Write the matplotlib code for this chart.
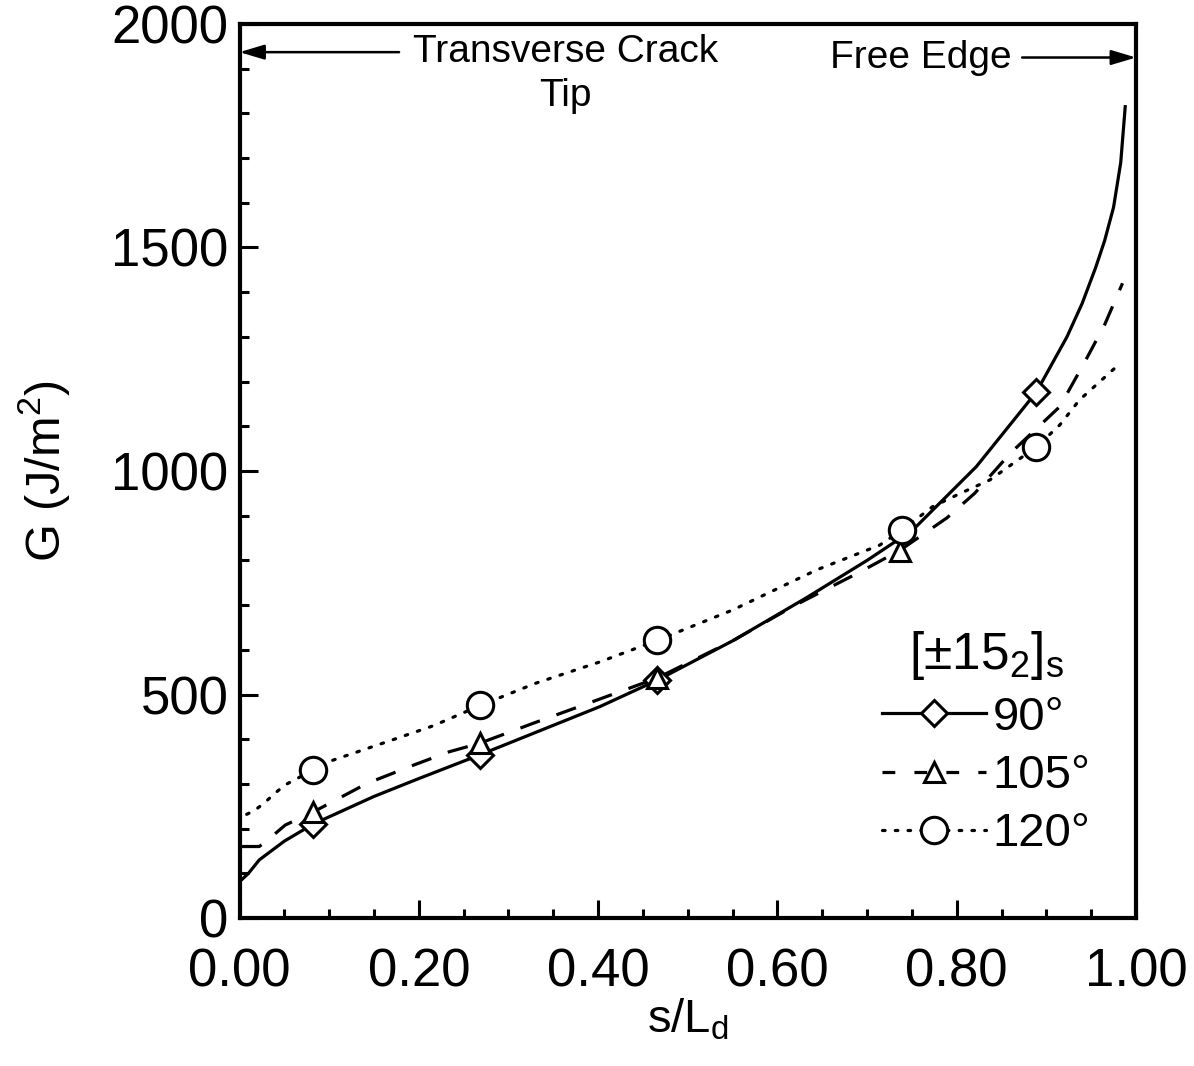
import matplotlib
matplotlib.use("Agg")
import matplotlib.pyplot as plt
from matplotlib.ticker import MultipleLocator, FormatStrFormatter

plt.rcParams['font.family'] = ['Liberation Sans', 'DejaVu Sans']
plt.rcParams['mathtext.fontset'] = 'custom'
plt.rcParams['mathtext.rm'] = 'Liberation Sans'
plt.rcParams['mathtext.it'] = 'Liberation Sans:italic'

# Energy release rate G along the delamination front, [±15_2]_s laminate
s_90 = [0.002, 0.010, 0.022, 0.050, 0.082, 0.150, 0.200, 0.268, 0.402, 0.466,
        0.550, 0.632, 0.700, 0.751, 0.822, 0.889, 0.923, 0.940, 0.955, 0.965,
        0.975, 0.983, 0.988]
g_90 = [85, 100, 130, 172, 210, 272, 312, 365, 473, 532,
        620, 716, 800, 868, 1010, 1177, 1300, 1375, 1455, 1515,
        1590, 1690, 1815]

s_105 = [0.002, 0.022, 0.030, 0.051, 0.082, 0.142, 0.194, 0.234, 0.268, 0.328,
         0.383, 0.466, 0.550, 0.620, 0.692, 0.737, 0.789, 0.820, 0.860, 0.915,
         0.941, 0.965, 0.985]
g_105 = [160, 160, 172, 208, 237, 301, 342, 372, 391, 436,
         476, 537, 620, 700, 774, 823, 895, 950, 1040, 1144,
         1237, 1327, 1420]

s_120 = [0.008, 0.017, 0.028, 0.040, 0.051, 0.082, 0.104, 0.164, 0.216, 0.268,
         0.330, 0.402, 0.467, 0.550, 0.644, 0.714, 0.739, 0.773, 0.804, 0.837,
         0.863, 0.889, 0.915, 0.937, 0.978]
g_120 = [232, 241, 258, 280, 298, 331, 353, 394, 430, 475,
         525, 573, 622, 689, 779, 834, 868, 920, 950, 980,
         1017, 1054, 1103, 1159, 1233]

# Marked points on each curve
mk_s_90 = [0.082, 0.268, 0.466, 0.889]
mk_g_90 = [210, 365, 532, 1177]
mk_s_105 = [0.082, 0.268, 0.466, 0.737]
mk_g_105 = [237, 391, 537, 820]
mk_s_120 = [0.082, 0.268, 0.466, 0.739, 0.889]
mk_g_120 = [331, 477, 622, 868, 1054]

labels = ['90°', '105°', '120°']
x_ticks = [0.0, 0.2, 0.4, 0.6, 0.8, 1.0]
y_ticks = [0, 500, 1000, 1500, 2000]

fig = plt.figure(figsize=(11.94, 10.66), dpi=100)
ax = fig.add_axes([0.2006, 0.1388, 0.7508, 0.8387])

lw = 2.3
ms_kw = dict(markerfacecolor='white', markeredgecolor='black', markeredgewidth=2.2)
dash_style = (0, (6.5, 5.5))
dot_style = (0, (0.8, 3.2))

ax.plot(s_90, g_90, color='black', lw=lw, ls='-')
ax.plot(s_105, g_105, color='black', lw=lw, ls=dash_style)
ax.plot(s_120, g_120, color='black', lw=lw, ls=dot_style, dash_capstyle='round')

ax.plot(mk_s_90, mk_g_90, ls='none', marker='D', markersize=13, **ms_kw)
ax.plot(mk_s_105, mk_g_105, ls='none', marker='^', markersize=15, **ms_kw)
ax.plot(mk_s_120, mk_g_120, ls='none', marker='o', markersize=19, **ms_kw)

# Legend handles combining line style and marker
h1, = ax.plot([], [], color='black', lw=lw, ls='-', marker='D', markersize=13, **ms_kw)
h2, = ax.plot([], [], color='black', lw=lw, ls=(0, (4, 6)), marker='^', markersize=15, **ms_kw)
h3, = ax.plot([], [], color='black', lw=lw, ls=dot_style, dash_capstyle='round',
              marker='o', markersize=19, **ms_kw)
leg = ax.legend([h1, h2, h3], labels, loc='upper left', bbox_to_anchor=(0.69, 0.35),
                frameon=False, fontsize=34, handlelength=2.2, handletextpad=0.15,
                labelspacing=0.3, borderpad=0.0,
                title='[±15$_{\\mathrm{2}}$]$_{\\mathrm{s}}$', title_fontsize=37)
leg._legend_box.align = 'center'

ax.set_xlim(0, 1.0)
ax.set_ylim(0, 2000)
ax.set_xticks(x_ticks)
ax.set_yticks(y_ticks)
ax.xaxis.set_minor_locator(MultipleLocator(0.05))
ax.yaxis.set_minor_locator(MultipleLocator(100))
ax.xaxis.set_major_formatter(FormatStrFormatter('%.2f'))
ax.tick_params(axis='both', which='major', direction='in', length=13, width=2.2,
               labelsize=38, top=False, right=False)
ax.tick_params(axis='both', which='minor', direction='in', length=6.5, width=2.2,
               top=False, right=False)
ax.tick_params(axis='x', which='major', pad=21)
ax.tick_params(axis='y', which='major', pad=8)

for sp in ax.spines.values():
    sp.set_linewidth(3)

ax.set_xlabel('s/L$_{\\mathrm{d}}$', fontsize=34, labelpad=0)
ax.set_ylabel('G (J/m$^{\\mathrm{2}}$)', fontsize=35, labelpad=28)

# Region annotations with arrows to the two ends of the front
arrow_kw = dict(arrowstyle='-|>,head_length=1.5,head_width=0.45',
                color='black', lw=1.8, shrinkA=0, shrinkB=0)
ax.annotate('', xy=(0.0, 1937), xytext=(0.178, 1937), arrowprops=arrow_kw)
ax.text(0.364, 1937, 'Transverse Crack', ha='center', va='center', fontsize=28)
ax.text(0.364, 1840, 'Tip', ha='center', va='center', fontsize=28)
ax.annotate('', xy=(1.0, 1925), xytext=(0.873, 1925), arrowprops=arrow_kw)
ax.text(0.76, 1925, 'Free Edge', ha='center', va='center', fontsize=28)

fig.savefig('out.png', dpi=100)
